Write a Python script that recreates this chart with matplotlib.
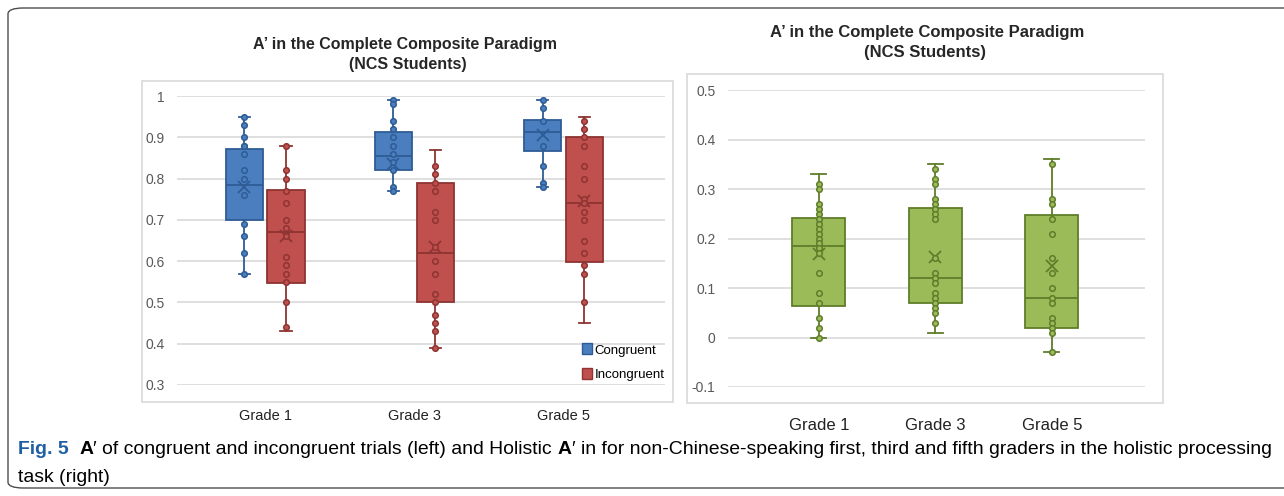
import matplotlib
matplotlib.use('Agg')
import matplotlib.pyplot as plt
from matplotlib import font_manager
from matplotlib.patches import Patch, Rectangle, FancyBboxPatch

grades = ['Grade 1', 'Grade 3', 'Grade 5']

# left chart: A' for congruent trials
cong_lo = [0.57, 0.77, 0.78]
cong_q1 = [0.70, 0.82, 0.866]
cong_med = [0.785, 0.855, 0.913]
cong_q3 = [0.872, 0.912, 0.941]
cong_hi = [0.95, 0.99, 0.99]
cong_mean = [0.78, 0.835, 0.905]
cong_pts = [
    [0.95, 0.93, 0.90, 0.88, 0.88, 0.86, 0.82, 0.80, 0.76, 0.69, 0.66, 0.62, 0.57],
    [0.99, 0.98, 0.94, 0.92, 0.90, 0.88, 0.86, 0.84, 0.82, 0.78, 0.77],
    [0.99, 0.97, 0.94, 0.88, 0.83, 0.79, 0.78],
]

# left chart: A' for incongruent trials
incong_lo = [0.43, 0.39, 0.45]
incong_q1 = [0.547, 0.50, 0.598]
incong_med = [0.67, 0.62, 0.74]
incong_q3 = [0.772, 0.79, 0.90]
incong_hi = [0.88, 0.87, 0.95]
incong_mean = [0.66, 0.635, 0.745]
incong_pts = [
    [0.88, 0.82, 0.80, 0.77, 0.74, 0.70, 0.68, 0.66, 0.61, 0.59, 0.57, 0.55, 0.50, 0.44],
    [0.83, 0.81, 0.79, 0.77, 0.72, 0.70, 0.635, 0.60, 0.57, 0.52, 0.50, 0.47, 0.45, 0.43, 0.39],
    [0.94, 0.92, 0.90, 0.88, 0.83, 0.80, 0.75, 0.74, 0.72, 0.70, 0.65, 0.62, 0.59, 0.57, 0.50],
]

# right chart: holistic A'
hol_lo = [0.0, 0.01, -0.03]
hol_q1 = [0.063, 0.07, 0.019]
hol_med = [0.185, 0.121, 0.079]
hol_q3 = [0.242, 0.261, 0.248]
hol_hi = [0.33, 0.35, 0.36]
hol_mean = [0.168, 0.162, 0.145]
hol_pts = [
    [0.31, 0.30, 0.27, 0.26, 0.25, 0.24, 0.23, 0.22, 0.21, 0.20, 0.19, 0.18, 0.17,
     0.13, 0.09, 0.07, 0.04, 0.02, 0.0],
    [0.34, 0.32, 0.31, 0.28, 0.27, 0.26, 0.25, 0.24, 0.16, 0.13, 0.12, 0.11, 0.09,
     0.08, 0.07, 0.06, 0.05, 0.03],
    [0.35, 0.28, 0.27, 0.24, 0.21, 0.16, 0.13, 0.10, 0.08, 0.07, 0.04, 0.03, 0.02,
     0.01, -0.03],
]

left_ticks = [0.3, 0.4, 0.5, 0.6, 0.7, 0.8, 0.9, 1.0]
left_ticklabels = ['0.3', '0.4', '0.5', '0.6', '0.7', '0.8', '0.9', '1']
right_ticks = [-0.1, 0, 0.1, 0.2, 0.3, 0.4, 0.5]
right_ticklabels = ['-0.1', '0', '0.1', '0.2', '0.3', '0.4', '0.5']

installed = {f.name for f in font_manager.fontManager.ttflist}
narrow = 'Liberation Sans Narrow' if 'Liberation Sans Narrow' in installed else 'Liberation Sans'
plt.rcParams['font.family'] = ['Liberation Sans', 'DejaVu Sans']

BLUE, BLUE_D = '#4a7ebf', '#2e5c96'
RED, RED_D = '#c0504d', '#8e3432'
GREEN, GREEN_D = '#9bbb59', '#5f7d2a'
GRID = '#d9d9d9'
TICK = '#595959'

W, H = 1284, 496
fig = plt.figure(figsize=(W / 100, H / 100), dpi=100)


def px_axes(x0, y0, x1, y1):
    return fig.add_axes([x0 / W, 1 - y1 / H, (x1 - x0) / W, (y1 - y0) / H])


def draw_boxes(ax, pos, lo, q1, med, q3, hi, mean, pts, face, edge, width, capw, msize):
    stats = []
    for i in range(len(pos)):
        stats.append(dict(whislo=lo[i], q1=q1[i], med=med[i], q3=q3[i], whishi=hi[i],
                          mean=mean[i], fliers=[]))
    ax.bxp(stats, positions=pos, widths=width, patch_artist=True, showmeans=True,
           showfliers=False, capwidths=capw,
           boxprops=dict(facecolor=face, edgecolor=edge, linewidth=1.3),
           medianprops=dict(color=edge, linewidth=1.3),
           whiskerprops=dict(color=edge, linewidth=1.3),
           capprops=dict(color=edge, linewidth=1.3),
           meanprops=dict(marker='x', markeredgecolor=edge, markersize=msize * 2.2,
                          markeredgewidth=1.3))
    for i, p in enumerate(pos):
        ax.plot([p] * len(pts[i]), pts[i], 'o', ls='none', markersize=msize,
                markerfacecolor=face, markeredgecolor=edge, markeredgewidth=1.1, zorder=4)


def style_axes(ax, ticks, labels, size):
    ax.set_yticks(ticks)
    ax.set_yticklabels(labels, color=TICK, fontsize=size)
    ax.grid(axis='y', color=GRID, linewidth=1.2)
    ax.set_axisbelow(True)
    for s in ax.spines.values():
        s.set_visible(False)
    ax.tick_params(axis='y', length=0, pad=9)
    ax.tick_params(axis='x', length=0)


# outer rounded frame of the figure panel
fig.patches.append(FancyBboxPatch((8 / W, 8 / H), (W + 20 - 8) / W, (488 - 8) / H,
                                  boxstyle='round,pad=0,rounding_size=0.012',
                                  transform=fig.transFigure, fill=False,
                                  edgecolor='#4d4d4d', linewidth=1.0))

# chart frames
fig.patches.append(Rectangle((142 / W, 1 - 402 / H), (673 - 142) / W, (402 - 81) / H,
                             transform=fig.transFigure, fill=False, edgecolor='#d9d9d9',
                             linewidth=1.2))
fig.patches.append(Rectangle((687 / W, 1 - 403 / H), (1163 - 687) / W, (403 - 74) / H,
                             transform=fig.transFigure, fill=False, edgecolor='#d9d9d9',
                             linewidth=1.2))

# ---- left chart ----
ax1 = px_axes(177, 96, 665, 385)
group = [1, 2, 3]
off = 0.14
draw_boxes(ax1, [g - off for g in group], cong_lo, cong_q1, cong_med, cong_q3, cong_hi,
           cong_mean, cong_pts, BLUE, BLUE_D, 0.25, 0.075, 4.0)
draw_boxes(ax1, [g + off for g in group], incong_lo, incong_q1, incong_med, incong_q3,
           incong_hi, incong_mean, incong_pts, RED, RED_D, 0.25, 0.075, 4.0)
ax1.set_xlim(0.41, 3.68)
ax1.set_ylim(0.3, 1.0)
style_axes(ax1, left_ticks, left_ticklabels, 10)
ax1.set_xticks(group)
ax1.set_xticklabels(grades, fontsize=10.5, family=narrow, color='#222222')
ax1.tick_params(axis='x', pad=17)
fig.text(405 / W, 1 - 45 / H, 'A’ in the Complete Composite Paradigm', ha='center',
         va='center', fontsize=11.5, fontweight='bold', color='#262626')
fig.text(408 / W, 1 - 65 / H, '(NCS Students)', ha='center', va='center', fontsize=11.5,
         fontweight='bold', color='#262626')
ax1.legend(handles=[Patch(facecolor=BLUE, edgecolor=BLUE_D, label='Congruent'),
                    Patch(facecolor=RED, edgecolor=RED_D, label='Incongruent')],
           loc='lower right', bbox_to_anchor=(1.015, -0.015), frameon=False,
           fontsize=9.5, handlelength=0.8, handleheight=0.9, handletextpad=0.15,
           labelspacing=0.9, borderaxespad=0.2)

# ---- right chart ----
ax2 = px_axes(728, 90, 1145, 387)
draw_boxes(ax2, group, hol_lo, hol_q1, hol_med, hol_q3, hol_hi, hol_mean, hol_pts,
           GREEN, GREEN_D, 0.455, 0.13, 4.0)
ax2.set_xlim(0.22, 3.8)
ax2.set_ylim(-0.1, 0.5)
style_axes(ax2, right_ticks, right_ticklabels, 10)
ax2.set_xticks(group)
ax2.set_xticklabels(grades, fontsize=12, family=narrow, color='#222222')
ax2.tick_params(axis='x', pad=22)
fig.text(927 / W, 1 - 33 / H, 'A’ in the Complete Composite Paradigm', ha='center',
         va='center', fontsize=12, fontweight='bold', color='#262626')
fig.text(925 / W, 1 - 53 / H, '(NCS Students)', ha='center', va='center', fontsize=12,
         fontweight='bold', color='#262626')

# ---- caption ----
cap_line1 = [
    ('Fig. 5', 'bold', '#1f5fa6'),
    ('  ', 'normal', 'black'),
    ('A', 'bold', 'black'),
    ('′ of congruent and incongruent trials (left) and Holistic ', 'normal', 'black'),
    ('A', 'bold', 'black'),
    ('′ in for non-Chinese-speaking first, third and fifth graders in the holistic processing',
     'normal', 'black'),
]
cap_line2 = 'task (right)'

renderer = fig.canvas.get_renderer()


def caption_width(size):
    total = 0
    for txt, wt, col in cap_line1:
        t = fig.text(0, 0, txt, fontsize=size, fontweight=wt, family=[narrow, 'DejaVu Sans'])
        total += t.get_window_extent(renderer).width
        t.remove()
    return total


size = 13
size = size * 1250 / caption_width(size)
x = 18
for txt, wt, col in cap_line1:
    t = fig.text(x / W, 1 - 450 / H, txt, fontsize=size, fontweight=wt, color=col,
                 va='center', family=[narrow, 'DejaVu Sans'])
    x += t.get_window_extent(renderer).width
fig.text(18 / W, 1 - 477 / H, cap_line2, fontsize=size, va='center',
         family=[narrow, 'DejaVu Sans'])

fig.savefig('out.png', dpi=100)
